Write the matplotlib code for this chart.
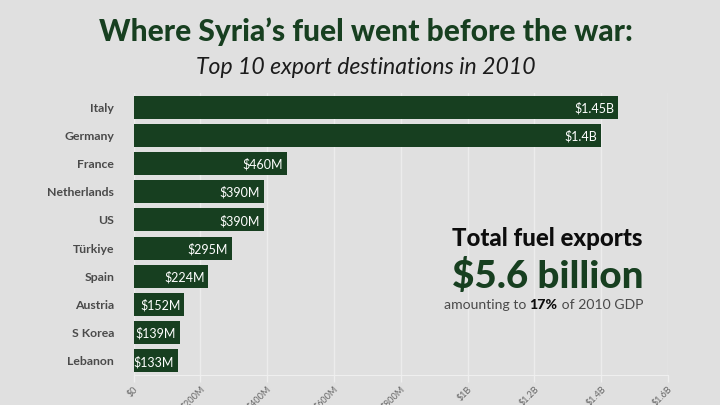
import matplotlib
matplotlib.use("Agg")
import matplotlib.pyplot as plt

countries = ["Italy", "Germany", "France", "Netherlands", "US", "Türkiye", "Spain", "Austria", "S Korea", "Lebanon"]
values = [1450, 1400, 460, 390, 390, 295, 224, 152, 139, 133]
value_labels = ["$1.45B", "$1.4B", "$460M", "$390M", "$390M", "$295M", "$224M", "$152M", "$139M", "$133M"]
ticks = [0, 200, 400, 600, 800, 1000, 1200, 1400, 1600]
tick_labels = ["$0", "$200M", "$400M", "$600M", "$800M", "$1B", "$1.2B", "$1.4B", "$1.6B"]

BG = "#e0e0e0"
GREEN = "#173f20"
W, H = 720, 405
plt.rcParams["font.family"] = ["Lato", "DejaVu Sans"]
plt.rcParams["text.parse_math"] = False

fig = plt.figure(figsize=(7.2, 4.05), dpi=100, facecolor=BG)
L, R, T, B = 133.5, 668, 93, 375
ax = fig.add_axes([L / W, 1 - B / H, (R - L) / W, (B - T) / H], facecolor=BG)
pos = list(range(len(countries)))
ax.barh(pos, values, height=0.82, color=GREEN, zorder=3)
ax.set_xlim(0, 1600)
ax.set_ylim(9.5, -0.5)
ax.set_yticks(pos)
ax.set_yticklabels(countries, fontsize=8.8, fontweight="bold", color="#4a4a4a")
ax.set_xticks(ticks)
ax.set_xticklabels(tick_labels, fontsize=6.5, rotation=45, ha="right", rotation_mode="anchor", color="#666666")
ax.tick_params(axis="y", length=0, pad=14)
ax.tick_params(axis="x", length=5, width=1, color="#efefef", pad=2)
ax.grid(axis="x", color="#ececec", lw=1, zorder=0)
ax.set_axisbelow(True)
for s in ["top", "right", "left"]:
    ax.spines[s].set_visible(False)
ax.spines["bottom"].set_color("#efefef")
for p, v, t in zip(pos, values, value_labels):
    ax.annotate(t, (v, p), xytext=(-2.8, 0), textcoords="offset points", ha="right", va="center_baseline",
                color="white", fontsize=9, zorder=4)

def ftext(x, y, s, **kw):
    return fig.text(x / W, 1 - y / H, s, **kw)

ftext(366, 32, "Where Syria’s fuel went before the war:", ha="center", va="center", fontsize=21.5, fontweight="black", color=GREEN)
ftext(366, 68, "Top 10 export destinations in 2010", ha="center", va="center", fontsize=16.6, style="italic", fontweight="normal", color="#1c1c1c")
ftext(643, 239, "Total fuel exports", ha="right", va="center", fontsize=17.3, fontweight="black", color="#0d0d0d")
ftext(643, 275.5, "$5.6 billion", ha="right", va="center", fontsize=27.7, fontweight="black", color=GREEN)

# mixed-weight caption laid out right to left
fig.canvas.draw()
rend = fig.canvas.get_renderer()
x = 643
for s, w, c in [(" of 2010 GDP", "normal", "#4a4a4a"), ("17%", "black", "#0d0d0d"), ("amounting to ", "normal", "#4a4a4a")]:
    t = ftext(x, 305, s.replace(" ", "\u00a0"), ha="right", va="center", fontsize=10.1, fontweight=w, color=c)
    x -= t.get_window_extent(rend).width

fig.savefig("out.png", dpi=100, facecolor=BG)
